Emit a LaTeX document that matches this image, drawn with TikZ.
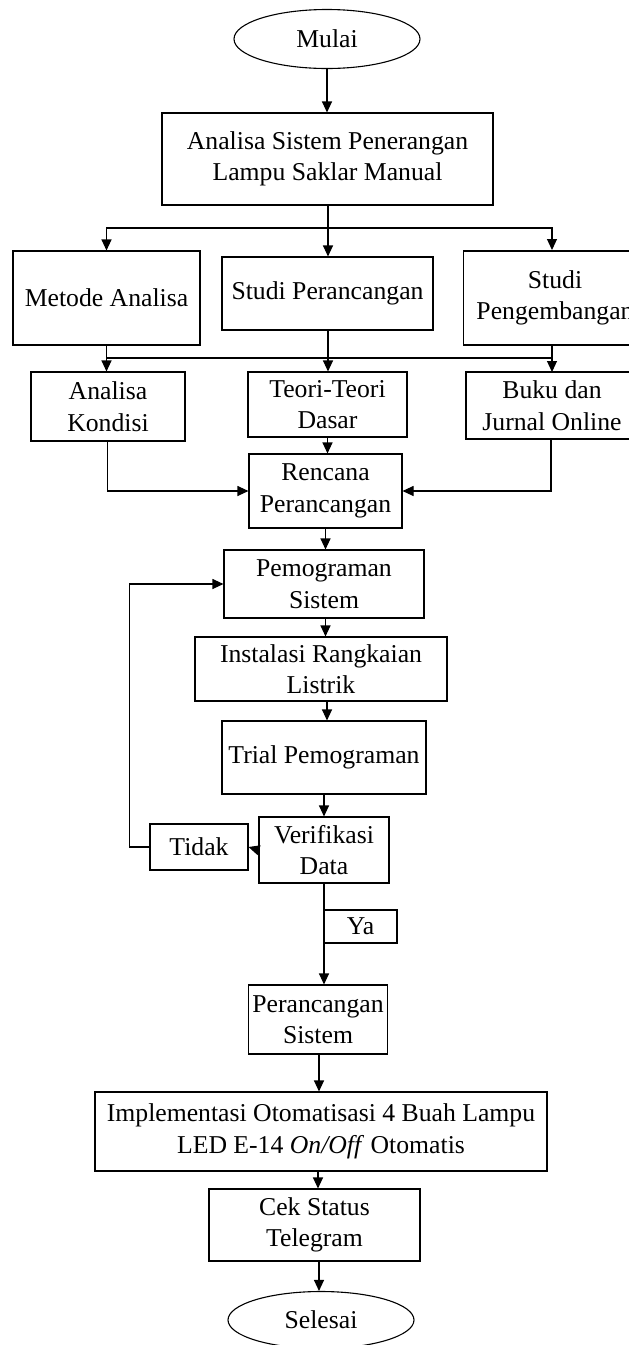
\documentclass[tikz,border=0pt]{standalone}
\usepackage{fontspec}
\setmainfont{Liberation Serif}
\usetikzlibrary{shapes.geometric,arrows.meta}
\begin{document}
\begin{tikzpicture}[x=1pt,y=-1pt,
  box/.style={draw,line width=1.1pt,rectangle,align=center,inner sep=0pt,
    font=\fontsize{25.7}{31.5}\selectfont},
  term/.style={draw,line width=1.1pt,ellipse,inner sep=0pt,
    font=\fontsize{25.7}{31.5}\selectfont},
  line/.style={line width=1.1pt},
  arr/.style={line width=1.1pt,-{Triangle[length=11pt,width=10pt]}}]
\useasboundingbox (0,0) rectangle (629,1345);
\clip (0,0) rectangle (629,1345);
\node[term,minimum width=186,minimum height=59] (mulai) at (327,39) {Mulai};
\node[box,minimum width=331,minimum height=92] (an) at (327.5,159) {Analisa Sistem Penerangan\\Lampu Saklar Manual};
\node[box,minimum width=187,minimum height=94] (met) at (106.5,298) {Metode Analisa};
\node[box,minimum width=211,minimum height=73] (sp) at (327.5,293.5) {Studi Perancangan};
\node[box,minimum width=183,minimum height=94] (peng) at (555,298) {Studi\\Pengembangan};
\node[box,minimum width=154,minimum height=69] (kon) at (108,406.5) {Analisa\\Kondisi};
\node[box,minimum width=159,minimum height=65] (teori) at (327.5,404.5) {Teori-Teori\\Dasar};
\node[box,minimum width=172,minimum height=67] (buku) at (552,405.5) {Buku dan\\Jurnal Online};
\node[box,minimum width=153,minimum height=74] (ren) at (325.5,491) {Rencana\\Perancangan};
\node[box,minimum width=200,minimum height=68] (pemo) at (324,584) {Pemograman\\Sistem};
\node[box,minimum width=252,minimum height=64] (ins) at (321,669) {Instalasi Rangkaian\\Listrik};
\node[box,minimum width=204,minimum height=73] (trial) at (324,757.5) {Trial Pemograman};
\node[box,minimum width=130,minimum height=66] (ver) at (324,850) {Verifikasi\\Data};
\node[box,minimum width=98,minimum height=46] (tidak) at (199,847) {Tidak};
\node[box,minimum width=73,minimum height=33] (ya) at (360.5,926.5) {Ya};
\node[box,minimum width=139,minimum height=69] (ps) at (318,1019.5) {Perancangan\\Sistem};
\node[box,minimum width=452,minimum height=79] (imp) at (321,1131.5) {Implementasi Otomatisasi 4 Buah Lampu\\LED E-14 \textit{On/Off} Otomatis};
\node[box,minimum width=211,minimum height=72] (cek) at (314.5,1225) {Cek Status\\Telegram};
\node[term,minimum width=186,minimum height=57] (sel) at (321,1320) {Selesai};

\coordinate (b1) at (328,228);
\coordinate (b2) at (328,358);
\draw[arr] (mulai.south) -- (mulai.south |- an.north);
\draw[line] (an.south -| b1) -- (b1);
\draw[arr] (b1) -| (met.north);
\draw[arr] (b1) -- (b1 |- sp.north);
\draw[arr] (b1) -| (552,250);
\draw[line] (met.south) -- (met.south |- b2) -- (552,358) -- (552,345);
\draw[line] (sp.south -| b2) -- (b2);
\draw[arr] (met.south |- b2) -- (met.south |- kon.north);
\draw[arr] (b2) -- (b2 |- teori.north);
\draw[arr] (552,358) -- (552,372);
\draw[arr] (teori.south) -- (teori.south |- ren.north);
\draw[arr] (kon.south -| 107.5,0) |- (ren.west);
\draw[arr] (buku.south -| 551,0) |- (ren.east);
\draw[arr] (ren.south) -- (ren.south |- pemo.north);
\draw[arr] (pemo.south -| ren.south) -- (ren.south |- ins.north);
\draw[arr] (ins.south -| 327,0) -- (327,0 |- trial.north);
\draw[arr] (trial.south -| ver.north) -- (ver.north);
\draw[arr] (ver.west) -- (tidak.east);
\draw[arr] (tidak.west) -- ++(-20,0) |- (pemo.west);
\draw[arr] (ver.south) -- (ver.south |- ps.north);
\draw[arr] (ps.south -| 319,0) -- (319,0 |- imp.north);
\draw[arr] (imp.south -| 318,0) -- (318,0 |- cek.north);
\draw[arr] (cek.south -| 319,0) -- (319,0 |- sel.north);
\end{tikzpicture}
\end{document}
